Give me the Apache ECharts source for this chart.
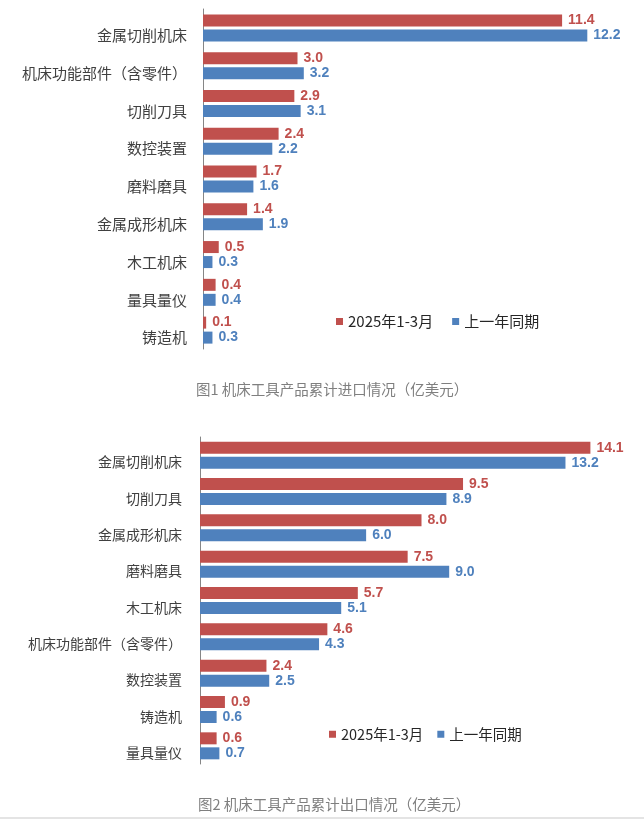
<!DOCTYPE html>
<html>
<head>
<meta charset="utf-8">
<script src="https://cdn.jsdelivr.net/npm/echarts@6/dist/echarts.min.js"></script>
<style>
html,body{margin:0;padding:0;background:#fff;}
#c{width:644px;height:820px;}
</style>
</head>
<body>
<div id="c"></div>
<script>
// Figure 1: imports (亿美元)
var importCategories = ['金属切削机床','机床功能部件（含零件）','切削刀具','数控装置','磨料磨具','金属成形机床','木工机床','量具量仪','铸造机'];
var import2025 = [11.4, 3.0, 2.9, 2.4, 1.7, 1.4, 0.5, 0.4, 0.1];
var importPrev = [12.2, 3.2, 3.1, 2.2, 1.6, 1.9, 0.3, 0.4, 0.3];
// Figure 2: exports (亿美元)
var exportCategories = ['金属切削机床','切削刀具','金属成形机床','磨料磨具','木工机床','机床功能部件（含零件）','数控装置','铸造机','量具量仪'];
var export2025 = [14.1, 9.5, 8.0, 7.5, 5.7, 4.6, 2.4, 0.9, 0.6];
var exportPrev = [13.2, 8.9, 6.0, 9.0, 5.1, 4.3, 2.5, 0.6, 0.7];
var seriesNames = ['2025年1-3月','上一年同期'];
var title1 = '图1 机床工具产品累计进口情况（亿美元）';
var title2 = '图2 机床工具产品累计出口情况（亿美元）';

var RED = '#C0504D', BLUE = '#4F81BD';
var CJK = '"Noto Sans CJK SC", "Noto Sans", sans-serif';
var NUM = '"Liberation Sans", Arial, sans-serif';

function yAx(idx, cats, fs, margin) {
  return {
    type: 'category', gridIndex: idx, data: cats, inverse: true,
    axisLine: {show: true, lineStyle: {color: '#868686', width: 1}},
    axisTick: {show: false},
    axisLabel: {color: '#404040', fontSize: fs, fontFamily: CJK, margin: margin, verticalAlign: 'top'},
    splitLine: {show: false}
  };
}
function xAx(idx, max) {
  return {
    type: 'value', gridIndex: idx, min: 0, max: max, show: false,
    splitLine: {show: false}
  };
}
function bar(name, data, color, idx) {
  return {
    name: name, type: 'bar', xAxisIndex: idx, yAxisIndex: idx,
    data: data, barWidth: 12, barGap: '25%',
    itemStyle: {color: color},
    label: {show: true, position: 'right', distance: 6, color: color,
      fontWeight: 'bold', fontSize: 14, fontFamily: NUM,
      formatter: function (p) { return p.value.toFixed(1); }},
    animation: false
  };
}

var chart = echarts.init(document.getElementById('c'), null, {renderer: 'canvas'});
chart.setOption({
  backgroundColor: '#ffffff',
  animation: false,
  title: [
    {text: title1, left: 191, top: 377, textStyle: {color: '#7f7f7f', fontSize: 14.5, fontWeight: 'normal', fontFamily: CJK}},
    {text: title2, left: 193, top: 792, textStyle: {color: '#7f7f7f', fontSize: 14.5, fontWeight: 'normal', fontFamily: CJK}}
  ],
  legend: [
    {data: seriesNames, left: 331, top: 309, icon: 'rect', itemWidth: 7, itemHeight: 7, itemGap: 19,
      textStyle: {color: '#262626', fontSize: 15, fontFamily: CJK}},
    {data: seriesNames, left: 324, top: 722, icon: 'rect', itemWidth: 7, itemHeight: 7, itemGap: 14,
      textStyle: {color: '#262626', fontSize: 14.5, fontFamily: CJK}}
  ],
  grid: [
    {left: 203, top: 9, width: 441, height: 340, containLabel: false},
    {left: 200, top: 437, width: 443, height: 327, containLabel: false}
  ],
  xAxis: [xAx(0, 14), xAx(1, 16)],
  yAxis: [yAx(0, importCategories, 15, 16), yAx(1, exportCategories, 14, 18)],
  series: [
    bar(seriesNames[0], import2025, RED, 0),
    bar(seriesNames[1], importPrev, BLUE, 0),
    bar(seriesNames[0], export2025, RED, 1),
    bar(seriesNames[1], exportPrev, BLUE, 1)
  ],
  graphic: [
    {type: 'rect', left: 0, top: 817, shape: {width: 644, height: 2}, style: {fill: '#e4e4e4'}}
  ]
});
</script>
</body>
</html>
